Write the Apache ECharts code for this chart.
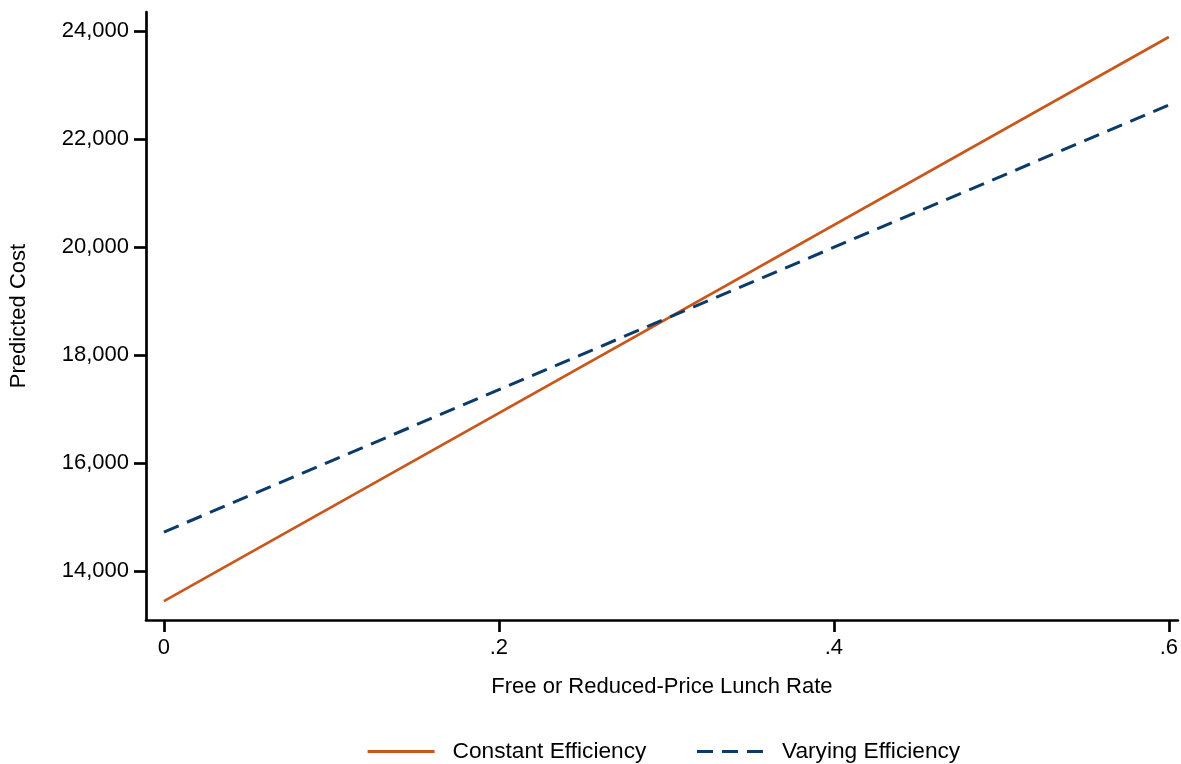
<!DOCTYPE html>
<html>
<head>
<meta charset="utf-8">
<script src="https://cdn.jsdelivr.net/npm/echarts@6/dist/echarts.min.js"></script>
<style>html,body{margin:0;padding:0;background:#fff}#c{width:1181px;height:764px}</style>
</head>
<body>
<div id="c"></div>
<script>
const xValues = [0, 0.6];
const constantEfficiency = [13444, 23889];
const varyingEfficiency = [14722, 22630];
const xTicks = [0, 0.2, 0.4, 0.6];
const yTicks = [14000, 16000, 18000, 20000, 22000, 24000];
const seriesNames = ['Constant Efficiency', 'Varying Efficiency'];

const FONT = 'Liberation Sans, Arial, Helvetica, sans-serif';
const chart = echarts.init(document.getElementById('c'), null, {renderer: 'canvas'});
const axisLineStyle = {color: '#000', width: 2.7};
chart.setOption({
  animation: false,
  backgroundColor: '#fff',
  textStyle: {fontFamily: FONT},
  grid: {left: 146, right: 0, top: 12, bottom: 144, containLabel: false},
  xAxis: {
    type: 'value', min: -0.0107, max: 0.6054,
    name: 'Free or Reduced-Price Lunch Rate', nameLocation: 'middle', nameGap: 56,
    nameTextStyle: {fontSize: 22, color: '#000', fontFamily: FONT},
    axisLine: {show: true, onZero: false, lineStyle: axisLineStyle},
    axisTick: {show: true, length: 12, lineStyle: axisLineStyle, customValues: xTicks},
    axisLabel: {fontSize: 22, color: '#000', margin: 17, fontFamily: FONT, customValues: xTicks,
      formatter: v => v === 0 ? '0' : String(+v.toFixed(1)).replace(/^0/, '')},
    splitLine: {show: false}
  },
  yAxis: {
    type: 'value', min: 13093, max: 24352,
    name: 'Predicted Cost', nameLocation: 'middle', nameGap: 116, nameRotate: 90,
    nameTextStyle: {fontSize: 22, color: '#000', fontFamily: FONT},
    axisLine: {show: true, onZero: false, lineStyle: axisLineStyle},
    axisTick: {show: true, length: 12, lineStyle: axisLineStyle, customValues: yTicks},
    axisLabel: {fontSize: 22, color: '#000', margin: 17, fontFamily: FONT, customValues: yTicks,
      formatter: v => v.toLocaleString('en-US')},
    splitLine: {show: false}
  },
  legend: {
    top: 735, left: 361, itemWidth: 67, itemHeight: 14, itemGap: 49,
    itemStyle: {opacity: 0},
    lineStyle: {width: 3.2},
    textStyle: {fontSize: 22.7, color: '#000', fontFamily: FONT, padding: [0, 0, 0, 13]},
    data: seriesNames
  },
  series: [
    {name: seriesNames[0], type: 'line', symbol: 'none', silent: true,
      data: xValues.map((x, i) => [x, constantEfficiency[i]]),
      lineStyle: {color: '#c9561a', width: 2.6, type: 'solid'}, itemStyle: {color: '#c9561a'}},
    {name: seriesNames[1], type: 'line', symbol: 'none', silent: true,
      data: xValues.map((x, i) => [x, varyingEfficiency[i]]),
      lineStyle: {color: '#0c3b6a', width: 3, type: [16, 9]}, itemStyle: {color: '#0c3b6a'}}
  ]
});
</script>
</body>
</html>
